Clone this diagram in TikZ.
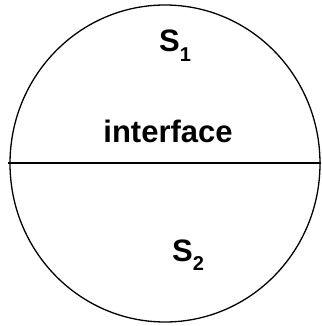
\documentclass[tikz,border=0pt]{standalone}
\usepackage{fontspec}
\setmainfont{Liberation Sans}
\newcommand{\lowsub}[1]{\raisebox{-0.3em}{\fontsize{20}{20}\selectfont #1}}
\begin{document}
\begin{tikzpicture}[x=1pt,y=-1pt,
  outline/.style={line width=1.3pt},
  lbl/.style={font=\fontsize{31}{32}\selectfont\bfseries, inner sep=0pt}]
\useasboundingbox (0,0) rectangle (321,326);
\draw[outline] (165,163.5) ellipse [x radius=155, y radius=158.5];
\coordinate (L) at (8,163);
\coordinate (R) at (321,163);
\draw[outline] (L) -- (R);
\node[lbl, anchor=base west] (s1) at (159,52) {S\lowsub{1}};
\node[lbl, anchor=base] (int) at (168,142) {interface};
\node[lbl, anchor=base west] (s2) at (172,261) {S\lowsub{2}};
\end{tikzpicture}
\end{document}
